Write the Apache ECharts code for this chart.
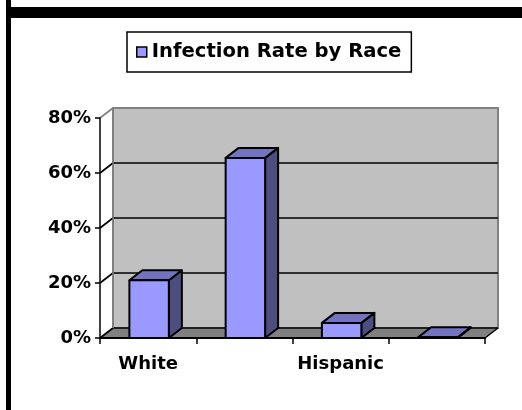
<!DOCTYPE html>
<html>
<head>
<meta charset="utf-8">
<script src="https://cdn.jsdelivr.net/npm/echarts@6/dist/echarts.min.js"></script>
<style>
    html, body { margin: 0; padding: 0; background: #fff; }
    #chart { width: 522px; height: 410px; }
</style>
</head>
<body>
<div id="chart"></div>
<script>
const categories = ['White', 'Black', 'Hispanic', 'Other'];
const infectionRate = [21, 65.5, 5.5, 0.3];
const yTicks = [0, 20, 40, 60, 80];
const seriesName = 'Infection Rate by Race';

// depth offset of the 3d look, in pixels
const DX = 13;
const DY = -10;
const labelFont = {
    fontFamily: 'DejaVu Sans',
    fontWeight: 'bold',
    fontSize: 18,
    color: '#000',
};

const chart = echarts.init(document.getElementById('chart'));

const renderWalls = (params, api) => {
    const cs = params.coordSys;
    const left = cs.x;
    const right = cs.x + cs.width;
    const bottom = cs.y + cs.height;
    const top = cs.y;
    const children = [
        {
            type: 'polygon',
            shape: { points: [[left + DX, top + DY], [right + DX, top + DY], [right + DX, bottom + DY], [left + DX, bottom + DY]] },
            style: { fill: '#C0C0C0', stroke: '#808080', lineWidth: 2 },
        },
        {
            type: 'polygon',
            shape: { points: [[left, bottom], [right, bottom], [right + DX, bottom + DY], [left + DX, bottom + DY]] },
            style: { fill: '#808080' },
        },
        {
            type: 'line',
            shape: { x1: right, y1: bottom, x2: right + DX, y2: bottom + DY },
            style: { stroke: '#000', lineWidth: 1.5 },
        },
    ];
    yTicks.forEach((t, k) => {
        const y = api.coord([0, t])[1];
        const last = k === yTicks.length - 1;
        const col = last ? '#808080' : '#000';
        if (!last) {
            children.push({
                type: 'line',
                shape: { x1: left + DX, y1: y + DY, x2: right + DX, y2: y + DY },
                style: { stroke: col, lineWidth: 1.7 },
            });
        }
        children.push({
            type: 'line',
            shape: { x1: left, y1: y, x2: left + DX, y2: y + DY },
            style: { stroke: col, lineWidth: 1.7 },
        });
    });
    children.push({
        type: 'line',
        shape: { x1: left + DX, y1: top + DY, x2: left + DX, y2: bottom + DY },
        style: { stroke: '#808080', lineWidth: 1.5 },
    });
    return { type: 'group', children };
};

const renderBar = (params, api) => {
    const i = api.value(0);
    const v = api.value(1);
    const topPt = api.coord([i, v]);
    const basePt = api.coord([i, 0]);
    const w = api.size([1, 0])[0] * 0.41;
    const x0 = topPt[0] - w / 2 + 1;
    const x1 = x0 + w;
    const yT = topPt[1];
    const yB = basePt[1];
    const line = { stroke: '#000', lineWidth: 2, lineJoin: 'round' };
    return {
        type: 'group',
        children: [
            {
                type: 'polygon',
                shape: { points: [[x1, yT], [x1 + DX, yT + DY], [x1 + DX, yB + DY], [x1, yB]] },
                style: Object.assign({ fill: '#4D4D80' }, line),
            },
            {
                type: 'polygon',
                shape: { points: [[x0, yT], [x1, yT], [x1 + DX, yT + DY], [x0 + DX, yT + DY]] },
                style: Object.assign({ fill: '#7373C0' }, line),
            },
            {
                type: 'polygon',
                shape: { points: [[x0, yT], [x1, yT], [x1, yB], [x0, yB]] },
                style: Object.assign({ fill: '#9999FF' }, line),
            },
        ],
    };
};

const option = {
    animation: false,
    backgroundColor: '#fff',
    graphic: [
        { type: 'rect', left: 6, top: 0, shape: { width: 5, height: 410 }, style: { fill: '#000' }, z: 100 },
        { type: 'rect', left: 6, top: 7, shape: { width: 516, height: 11 }, style: { fill: '#000' }, z: 100 },
    ],
    legend: {
        data: [seriesName],
        left: 127,
        top: 32,
        padding: [10, 10, 10, 9],
        backgroundColor: '#fff',
        borderColor: '#000',
        borderWidth: 1.5,
        icon: 'rect',
        itemWidth: 10,
        itemHeight: 10,
        itemStyle: { borderColor: '#000', borderWidth: 1.5 },
        textStyle: {
            fontFamily: 'DejaVu Sans',
            fontWeight: 'bold',
            fontSize: 19.6,
            lineHeight: 20,
            color: '#000',
        },
    },
    grid: {
        left: 100,
        right: 37,
        top: 118,
        bottom: 72,
    },
    xAxis: {
        type: 'category',
        data: categories,
        z: 10,
        axisLine: { lineStyle: { color: '#000', width: 2 } },
        axisTick: { show: true, interval: 0, length: 6, lineStyle: { color: '#000', width: 1.5 } },
        axisLabel: Object.assign({ interval: 1, margin: 17 }, labelFont),
    },
    yAxis: {
        type: 'value',
        min: 0,
        max: 80,
        interval: 20,
        z: 10,
        axisLine: { show: true, lineStyle: { color: '#000', width: 1.5 } },
        axisTick: { show: true, length: 5, lineStyle: { color: '#000', width: 1.5 } },
        axisLabel: Object.assign({ formatter: '{value}%', margin: 9 }, labelFont),
        splitLine: { show: false },
    },
    series: [
        {
            name: 'walls',
            type: 'custom',
            z: 1,
            silent: true,
            renderItem: renderWalls,
            data: [[0, 0]],
        },
        {
            name: seriesName,
            type: 'custom',
            z: 3,
            itemStyle: { color: '#9999FF' },
            renderItem: renderBar,
            data: categories.map((c, i) => [i, infectionRate[i]]),
        },
    ],
};

chart.setOption(option);
</script>
</body>
</html>
